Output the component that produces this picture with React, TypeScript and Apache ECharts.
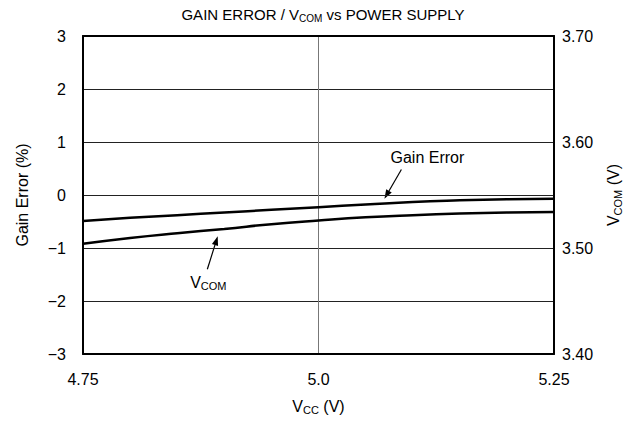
import React, { useEffect, useRef } from "react";
import * as echarts from "echarts";

const vcc = [4.75, 4.8, 4.85, 4.9, 4.95, 5.0, 5.05, 5.1, 5.15, 5.2, 5.25];
const gainError = [-0.49, -0.43, -0.38, -0.33, -0.28, -0.23, -0.18, -0.13, -0.1, -0.08, -0.07];
const vcom = [3.504, 3.5095, 3.514, 3.518, 3.5225, 3.526, 3.529, 3.531, 3.5325, 3.5335, 3.534];

// annotation anchors in data coordinates: [x, y] for tail and tip
const gainArrow = { tail: [5.088, 0.48], tip: [5.07, -0.07] };
const vcomArrow = { tail: [4.882, -1.4], tip: [4.893, -0.78] };

const FONT = "Liberation Sans, Arial, sans-serif";
const FS = 16;

function arrow(tail: number[], tip: number[]) {
  const dx = tip[0] - tail[0];
  const dy = tip[1] - tail[1];
  const len = Math.sqrt(dx * dx + dy * dy);
  const ux = dx / len, uy = dy / len;
  const hl = 9, hw = 3.2;
  const bx = tip[0] - ux * hl, by = tip[1] - uy * hl;
  return [
    { type: "line", shape: { x1: tail[0], y1: tail[1], x2: bx, y2: by }, style: { stroke: "#000", lineWidth: 1.2 } },
    {
      type: "polygon",
      shape: { points: [tip, [bx - uy * hw, by + ux * hw], [bx + uy * hw, by - ux * hw]] },
      style: { fill: "#000" },
    },
  ];
}

const thick = { show: true, onZero: false, lineStyle: { color: "#000", width: 2 } };
const subRich = {
  n: { fontFamily: FONT, fontSize: FS, color: "#000", lineHeight: 20 },
  s: { fontFamily: FONT, fontSize: 11, color: "#000", lineHeight: 20, padding: [8, 0, 0, 0] },
};

export default function App() {
  const ref = useRef<HTMLDivElement>(null);
  useEffect(() => {
    const chart = echarts.init(ref.current!, null, { renderer: "svg" });
    const option: any = {
      animation: false,
      title: {
        text: "{n|GAIN ERROR / V}{s|COM}{n| vs POWER SUPPLY}",
        left: 318,
        textAlign: "center",
        top: 0,
        textStyle: {
          fontWeight: "normal",
          rich: {
            n: { fontFamily: FONT, fontSize: 15, fontWeight: "normal", color: "#000", lineHeight: 19 },
            s: { fontFamily: FONT, fontSize: 10, fontWeight: "normal", color: "#000", lineHeight: 19, padding: [8, 0, 0, 0] },
          },
        },
      },
      grid: { left: 83, right: 84, top: 36, bottom: 68 },
      xAxis: [
        {
          type: "value",
          min: 4.75,
          max: 5.25,
          interval: 0.25,
          position: "bottom",
          name: "{n|V}{s|CC}{n| (V)}",
          nameLocation: "middle",
          nameGap: 42,
          nameTextStyle: { rich: subRich },
          axisLine: thick,
          axisTick: { show: false },
          axisLabel: {
            fontFamily: FONT,
            fontSize: FS,
            color: "#000",
            margin: 17,
            formatter: (v: number) => (v === 5 ? "5.0" : v.toFixed(2)),
          },
          splitLine: { show: true, lineStyle: { color: "#777", width: 1 } },
          z: 3,
        },
        {
          type: "value",
          min: 4.75,
          max: 5.25,
          interval: 0.25,
          position: "top",
          axisLine: thick,
          axisTick: { show: false },
          axisLabel: { show: false },
          splitLine: { show: false },
          z: 3,
        },
      ],
      yAxis: [
        {
          type: "value",
          min: -3,
          max: 3,
          interval: 1,
          name: "Gain Error (%)",
          nameLocation: "middle",
          nameGap: 53,
          nameTextStyle: { fontFamily: FONT, fontSize: FS, color: "#000" },
          axisLine: thick,
          axisTick: { show: false },
          axisLabel: {
            fontFamily: FONT,
            fontSize: FS,
            color: "#000",
            margin: 17,
            formatter: (v: number) => (v < 0 ? "\u2212" + Math.abs(v) : String(v)),
          },
          splitLine: { show: true, lineStyle: { color: "#222", width: 1 } },
          z: 3,
        },
        {
          type: "value",
          min: 3.4,
          max: 3.7,
          interval: 0.1,
          position: "right",
          name: "{n|V}{s|COM}{n| (V)}",
          nameLocation: "middle",
          nameGap: 40,
          nameTextStyle: { rich: subRich },
          axisLine: thick,
          axisTick: { show: false },
          axisLabel: {
            fontFamily: FONT,
            fontSize: FS,
            color: "#000",
            margin: 8,
            formatter: (v: number) => v.toFixed(2),
          },
          splitLine: { show: false },
          z: 3,
        },
      ],
      series: [
        {
          name: "Gain Error",
          type: "line",
          xAxisIndex: 0,
          yAxisIndex: 0,
          data: vcc.map((x, i) => [x, gainError[i]]),
          showSymbol: false,
          smooth: true,
          lineStyle: { color: "#000", width: 2.5 },
        },
        {
          name: "VCOM",
          type: "line",
          xAxisIndex: 0,
          yAxisIndex: 1,
          data: vcc.map((x, i) => [x, vcom[i]]),
          showSymbol: false,
          smooth: true,
          lineStyle: { color: "#000", width: 2.5 },
        },
      ],
    };
    chart.setOption(option);

    const px = (p: number[]) => chart.convertToPixel({ xAxisIndex: 0, yAxisIndex: 0 }, p) as number[];
    const gTail = px(gainArrow.tail), gTip = px(gainArrow.tip);
    const vTail = px(vcomArrow.tail), vTip = px(vcomArrow.tip);
    chart.setOption({
      graphic: [
        ...arrow(gTail, gTip),
        ...arrow(vTail, vTip),
        {
          type: "text",
          x: gTail[0] + 26,
          y: gTail[1] - 12,
          style: { text: "Gain Error", font: `${FS}px ${FONT}`, fill: "#000", align: "center", verticalAlign: "middle" },
        },
        {
          type: "text",
          x: vTail[0] + 1,
          y: vTail[1] + 13,
          style: {
            text: "{n|V}{s|COM}",
            align: "center",
            verticalAlign: "middle",
            rich: {
              n: { fontFamily: FONT, fontSize: FS, fill: "#000", lineHeight: 20 },
              s: { fontFamily: FONT, fontSize: 11, fill: "#000", lineHeight: 20, padding: [8, 0, 0, 0] },
            },
          },
        },
      ],
    });
    return () => chart.dispose();
  }, []);
  return <div ref={ref} style={{ width: 638, height: 422, marginLeft: -8, marginTop: -8 }} />;
}
